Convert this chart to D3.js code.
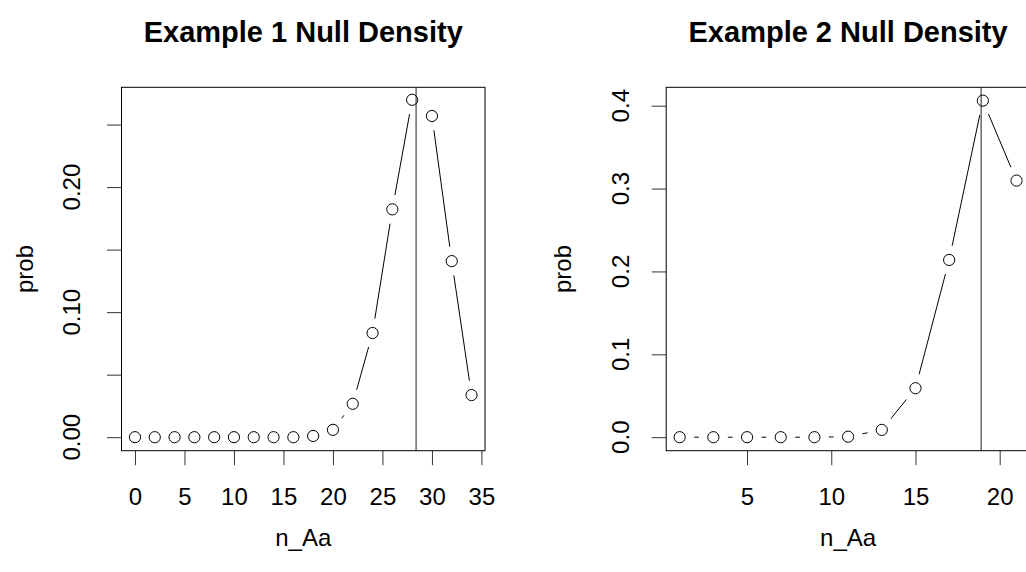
<!DOCTYPE html>
<html>
<head>
<meta charset="utf-8">
<script src="https://cdn.jsdelivr.net/npm/d3@7"></script>
<style>
  html, body { margin: 0; padding: 0; background: #fff; }
  svg { display: block; font-family: "Liberation Sans", Arial, Helvetica, sans-serif; }
</style>
</head>
<body>
<svg id="chart" width="1026" height="572"></svg>
<script>
// ---- data ----
const titles = ["Example 1 Null Density", "Example 2 Null Density"];
const xLabel = "n_Aa";
const yLabel = "prob";

const ex1X = [0, 2, 4, 6, 8, 10, 12, 14, 16, 18, 20, 22, 24, 26, 28, 30, 32, 34];
const ex1P = [0, 0, 0, 0, 0, 0, 0, 0, 0, 0.001, 0.0059, 0.0267, 0.0833, 0.1822, 0.2698, 0.2569, 0.1408, 0.0337];
const ex1Obs = 28.4;
const ex1XTicks = [0, 5, 10, 15, 20, 25, 30, 35];
const ex1YTicks = [0, 0.05, 0.10, 0.15, 0.20, 0.25];
const ex1YLabels = [0, 0.10, 0.20];

const ex2X = [1, 3, 5, 7, 9, 11, 13, 15, 17, 19, 21];
const ex2P = [0, 0, 0, 0, 0, 0.0006, 0.0088, 0.0591, 0.2139, 0.4061, 0.3096];
const ex2Obs = 18.9;
const ex2XTicks = [5, 10, 15, 20];
const ex2YTicks = [0, 0.1, 0.2, 0.3, 0.4];
const ex2YLabels = [0, 0.1, 0.2, 0.3, 0.4];

// ---- layout ----
const svg = d3.select("#chart");
const plotTop = 87.3, plotBottom = 450.7;

const panels = [
  {
    title: titles[0], xs: ex1X, ps: ex1P, obs: ex1Obs,
    xTicks: ex1XTicks, yTicks: ex1YTicks, yLabels: ex1YLabels, yFmt: d3.format(".2f"),
    left: 121.5, right: 485, xDom: [-1.36, 35.36], yDom: [-0.0108, 0.2798],
    tickLabelX: 80, yTitleX: 33
  },
  {
    title: titles[1], xs: ex2X, ps: ex2P, obs: ex2Obs,
    xTicks: ex2XTicks, yTicks: ex2YTicks, yLabels: ex2YLabels, yFmt: d3.format(".1f"),
    left: 666.2, right: 1030, xDom: [0.2, 21.8], yDom: [-0.0163, 0.4222],
    tickLabelX: 629, yTitleX: 571
  }
];

const R = 5.6, GAP = 14.5, TICK = 14.5;
const fsTick = 24, fsLab = 24, fsTitle = 29;

panels.forEach(p => {
  const x = d3.scaleLinear().domain(p.xDom).range([p.left, p.right]);
  const y = d3.scaleLinear().domain(p.yDom).range([plotBottom, plotTop]);
  const g = svg.append("g");
  const cx = (p.left + p.right) / 2;

  g.append("text").attr("x", cx).attr("y", 42)
    .attr("text-anchor", "middle").attr("font-size", fsTitle).attr("font-weight", "bold")
    .attr("fill", "#000").text(p.title);

  const xAxis = d3.axisBottom(x).tickValues(p.xTicks).tickSize(TICK).tickPadding(0).tickFormat(d3.format("d"));
  const gx = g.append("g").attr("transform", `translate(0,${plotBottom})`).call(xAxis);
  gx.select(".domain").remove();
  gx.selectAll(".tick line").attr("stroke", "#333").attr("stroke-width", 1);
  gx.selectAll(".tick text").attr("font-size", fsTick)
    .attr("fill", "#000").attr("y", 505 - plotBottom).attr("dy", null);
  gx.attr("font-family", null).attr("font-size", null);

  const yAxis = d3.axisLeft(y).tickValues(p.yTicks).tickSize(TICK).tickFormat("");
  const gy = g.append("g").attr("transform", `translate(${p.left},0)`).call(yAxis);
  gy.select(".domain").remove();
  gy.selectAll(".tick line").attr("stroke", "#333").attr("stroke-width", 1);
  g.selectAll(".ylab").data(p.yLabels).enter().append("text")
    .attr("transform", d => `translate(${p.tickLabelX},${y(d)}) rotate(-90)`)
    .attr("text-anchor", "middle").attr("font-size", fsTick).attr("fill", "#000")
    .text(d => p.yFmt(d));

  g.append("text").attr("x", cx).attr("y", 546).attr("text-anchor", "middle")
    .attr("font-size", fsLab).attr("fill", "#000").text(xLabel);
  g.append("text").attr("transform", `translate(${p.yTitleX},${(plotTop + plotBottom) / 2}) rotate(-90)`)
    .attr("text-anchor", "middle").attr("font-size", fsLab).attr("fill", "#000").text(yLabel);

  g.append("line").attr("x1", x(p.obs)).attr("x2", x(p.obs)).attr("y1", plotTop).attr("y2", plotBottom)
    .attr("stroke", "#555").attr("stroke-width", 1.3);

  const pts = p.xs.map((v, i) => [x(v), y(p.ps[i])]);
  const segs = [];
  for (let i = 0; i < pts.length - 1; i++) {
    const [x0, y0] = pts[i], [x1, y1] = pts[i + 1];
    const dx = x1 - x0, dy = y1 - y0, d = Math.hypot(dx, dy);
    if (d > 2 * GAP) {
      const ux = dx / d, uy = dy / d;
      segs.push([x0 + ux * GAP, y0 + uy * GAP, x1 - ux * GAP, y1 - uy * GAP]);
    }
  }
  g.selectAll(".seg").data(segs).enter().append("line")
    .attr("x1", s => s[0]).attr("y1", s => s[1]).attr("x2", s => s[2]).attr("y2", s => s[3])
    .attr("stroke", "#000").attr("stroke-width", 1);

  g.selectAll(".pt").data(p.xs).enter().append("circle")
    .attr("cx", (d) => x(d)).attr("cy", (d, i) => y(p.ps[i])).attr("r", R)
    .attr("fill", "none").attr("stroke", "#000").attr("stroke-width", 1);

  g.append("rect").attr("x", p.left).attr("y", plotTop)
    .attr("width", p.right - p.left).attr("height", plotBottom - plotTop)
    .attr("fill", "none").attr("stroke", "#000").attr("stroke-width", 1);
});
</script>
</body>
</html>
